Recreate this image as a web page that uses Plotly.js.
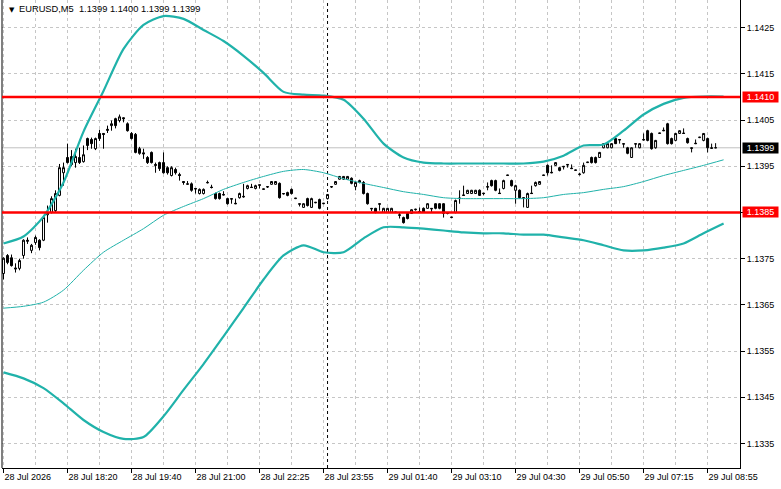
<!DOCTYPE html>
<html>
<head>
<meta charset="utf-8">
<script src="https://cdn.plot.ly/plotly-3.0.1.min.js"></script>
<style>html,body{margin:0;padding:0;background:#fff;}#chart{width:781px;height:489px;}</style>
</head>
<body>
<div id="chart"></div>
<script>
// ---- data (EURUSD M5) ----
const symbol = "EURUSD,M5";
const openP = [1.13718,1.13757,1.13752,1.13730,1.13729,1.13757,1.13790,1.13768,1.13785,1.13790,
1.13790,1.13845,1.13850,1.13854,1.13887,1.13936,1.13969,1.13971,1.13958,1.13969,
1.13960,1.14010,1.14008,1.13988,1.14021,1.14021,1.14030,1.14038,1.14053,1.14049,
1.14055,1.14042,1.14021,1.14019,1.13988,1.13979,1.13969,1.13980,1.13954,1.13958,
1.13958,1.13947,1.13930,1.13943,1.13932,1.13917,1.13911,1.13912,1.13902,1.13891,
1.13891,1.13914,1.13905,1.13891,1.13891,1.13889,1.13880,1.13880,1.13870,1.13882,
1.13885,1.13902,1.13905,1.13902,1.13910,1.13900,1.13905,1.13911,1.13911,1.13913,
1.13890,1.13893,1.13900,1.13880,1.13869,1.13861,1.13880,1.13861,1.13871,1.13878,
1.13869,1.13880,1.13905,1.13911,1.13922,1.13922,1.13922,1.13924,1.13906,1.13915,
1.13915,1.13891,1.13859,1.13859,1.13869,1.13850,1.13850,1.13850,1.13850,1.13845,
1.13839,1.13848,1.13848,1.13856,1.13852,1.13859,1.13859,1.13859,1.13869,1.13869,
1.13869,1.13848,1.13839,1.13850,1.13880,1.13888,1.13891,1.13891,1.13891,1.13898,
1.13892,1.13906,1.13919,1.13919,1.13892,1.13902,1.13930,1.13919,1.13898,1.13898,
1.13882,1.13861,1.13892,1.13908,1.13911,1.13930,1.13952,1.13937,1.13952,1.13947,
1.13950,1.13954,1.13946,1.13941,1.13932,1.13936,1.13958,1.13969,1.13969,1.13969,
1.13990,1.13990,1.13990,1.14010,1.14008,1.13999,1.13990,1.13969,1.13999,1.13990,
1.14008,1.14027,1.14021,1.13990,1.14021,1.14028,1.14042,1.14010,1.14006,1.14021,
1.14022,1.14010,1.13990,1.14000,1.14012,1.14006,1.14010,1.13990,1.13990];
const highP = [1.13753,1.13760,1.13759,1.13740,1.13750,1.13792,1.13796,1.13782,1.13800,1.13792,
1.13842,1.13865,1.13885,1.13898,1.13955,1.13958,1.13999,1.13985,1.13988,1.13990,
1.13995,1.14012,1.14012,1.14012,1.14029,1.14022,1.14038,1.14049,1.14055,1.14062,
1.14056,1.14045,1.14024,1.14022,1.13992,1.13988,1.13972,1.13982,1.13958,1.13960,
1.13980,1.13950,1.13950,1.13947,1.13936,1.13917,1.13918,1.13915,1.13902,1.13902,
1.13902,1.13919,1.13910,1.13893,1.13893,1.13896,1.13882,1.13880,1.13880,1.13893,
1.13912,1.13910,1.13912,1.13910,1.13910,1.13901,1.13907,1.13918,1.13918,1.13915,
1.13891,1.13895,1.13902,1.13881,1.13869,1.13870,1.13882,1.13882,1.13872,1.13880,
1.13870,1.13890,1.13907,1.13918,1.13929,1.13929,1.13929,1.13926,1.13917,1.13921,
1.13918,1.13893,1.13859,1.13860,1.13870,1.13860,1.13860,1.13860,1.13851,1.13849,
1.13841,1.13850,1.13857,1.13858,1.13861,1.13861,1.13870,1.13859,1.13870,1.13870,
1.13870,1.13850,1.13840,1.13878,1.13898,1.13908,1.13899,1.13899,1.13899,1.13900,
1.13892,1.13915,1.13921,1.13921,1.13902,1.13921,1.13931,1.13921,1.13910,1.13900,
1.13883,1.13893,1.13908,1.13917,1.13918,1.13931,1.13954,1.13952,1.13959,1.13949,
1.13950,1.13954,1.13954,1.13942,1.13936,1.13958,1.13959,1.13971,1.13971,1.13981,
1.14000,1.14000,1.14000,1.14012,1.14008,1.13999,1.13992,1.13991,1.13999,1.14000,
1.14021,1.14029,1.14023,1.14007,1.14022,1.14034,1.14044,1.14012,1.14022,1.14028,
1.14032,1.14012,1.13990,1.14008,1.14013,1.14022,1.14012,1.13999,1.14000];
const lowP = [1.13705,1.13738,1.13733,1.13720,1.13725,1.13750,1.13782,1.13762,1.13780,1.13768,
1.13788,1.13828,1.13848,1.13850,1.13885,1.13908,1.13956,1.13950,1.13947,1.13955,
1.13958,1.13985,1.13988,1.13985,1.14005,1.13988,1.14022,1.14027,1.14032,1.14045,
1.14045,1.14025,1.14008,1.13978,1.13975,1.13966,1.13955,1.13956,1.13936,1.13940,
1.13934,1.13932,1.13928,1.13932,1.13919,1.13910,1.13910,1.13895,1.13891,1.13889,
1.13889,1.13913,1.13902,1.13878,1.13878,1.13887,1.13867,1.13869,1.13868,1.13880,
1.13882,1.13900,1.13903,1.13900,1.13902,1.13899,1.13903,1.13910,1.13910,1.13880,
1.13889,1.13885,1.13889,1.13879,1.13863,1.13860,1.13863,1.13860,1.13870,1.13857,
1.13868,1.13878,1.13903,1.13910,1.13921,1.13921,1.13921,1.13911,1.13898,1.13913,
1.13889,1.13867,1.13853,1.13848,1.13854,1.13849,1.13849,1.13849,1.13849,1.13837,
1.13826,1.13835,1.13847,1.13854,1.13850,1.13849,1.13858,1.13850,1.13857,1.13857,
1.13839,1.13846,1.13838,1.13848,1.13869,1.13886,1.13890,1.13890,1.13890,1.13886,
1.13887,1.13898,1.13906,1.13896,1.13890,1.13900,1.13929,1.13906,1.13869,1.13880,
1.13861,1.13860,1.13890,1.13906,1.13910,1.13929,1.13930,1.13935,1.13951,1.13939,
1.13943,1.13947,1.13944,1.13940,1.13930,1.13934,1.13957,1.13956,1.13956,1.13968,
1.13989,1.13989,1.13989,1.13998,1.13999,1.13990,1.13976,1.13968,1.13990,1.13989,
1.14006,1.14004,1.13986,1.13988,1.14020,1.14026,1.13997,1.13997,1.14004,1.14020,
1.14020,1.13999,1.13980,1.13998,1.14011,1.14004,1.13980,1.13988,1.13990];
const closeP = [1.13751,1.13742,1.13735,1.13728,1.13746,1.13790,1.13788,1.13779,1.13796,1.13774,
1.13839,1.13850,1.13880,1.13891,1.13947,1.13947,1.13958,1.13954,1.13971,1.13958,
1.13975,1.13995,1.13999,1.14010,1.14010,1.14019,1.14028,1.14042,1.14038,1.14057,
1.14053,1.14027,1.14010,1.13980,1.13978,1.13977,1.13958,1.13958,1.13952,1.13945,
1.13936,1.13936,1.13947,1.13936,1.13930,1.13915,1.13912,1.13898,1.13901,1.13900,
1.13900,1.13915,1.13904,1.13880,1.13880,1.13888,1.13869,1.13879,1.13869,1.13891,
1.13884,1.13908,1.13904,1.13908,1.13909,1.13901,1.13906,1.13917,1.13917,1.13882,
1.13891,1.13887,1.13891,1.13881,1.13868,1.13869,1.13865,1.13880,1.13872,1.13859,
1.13870,1.13889,1.13906,1.13917,1.13928,1.13928,1.13928,1.13913,1.13915,1.13919,
1.13891,1.13869,1.13858,1.13850,1.13868,1.13859,1.13859,1.13859,1.13851,1.13844,
1.13828,1.13837,1.13856,1.13857,1.13851,1.13850,1.13869,1.13858,1.13859,1.13859,
1.13848,1.13849,1.13840,1.13876,1.13881,1.13887,1.13898,1.13898,1.13898,1.13887,
1.13891,1.13905,1.13908,1.13898,1.13891,1.13919,1.13931,1.13908,1.13908,1.13882,
1.13881,1.13891,1.13891,1.13915,1.13917,1.13931,1.13936,1.13936,1.13958,1.13941,
1.13949,1.13953,1.13945,1.13942,1.13933,1.13952,1.13959,1.13958,1.13958,1.13980,
1.13999,1.13999,1.13999,1.13999,1.14007,1.13998,1.13978,1.13990,1.13998,1.13999,
1.14007,1.14006,1.13988,1.14006,1.14022,1.14027,1.13999,1.13999,1.14021,1.14027,
1.14021,1.14001,1.13989,1.13999,1.14013,1.14021,1.13990,1.13989,1.13990];

// Bollinger bands, read at every 5th bar
const bandBars  = [0,5,10,15,20,25,30,35,40,45,50,55,60,65,70,75,80,85,90,95,100,105,110,115,120,125,130,135,140,145,150,155,160,165,170,175,180];
const bandUpper = [1.13783,1.13798,1.13841,1.13915,1.14025,1.14113,1.14204,1.14256,1.14275,1.14269,1.14245,1.14221,1.14189,1.14152,1.14111,1.14105,1.14103,1.14094,1.14053,1.13999,1.13969,1.13958,1.13956,1.13956,1.13956,1.13956,1.13956,1.13960,1.13973,1.13995,1.13997,1.14027,1.14062,1.14085,1.14098,1.14101,1.14101];
const bandMid   = [1.13643,1.13647,1.13656,1.13682,1.13725,1.13764,1.13790,1.13815,1.13844,1.13863,1.13880,1.13900,1.13915,1.13928,1.13939,1.13943,1.13936,1.13923,1.13913,1.13904,1.13895,1.13889,1.13882,1.13880,1.13880,1.13880,1.13880,1.13882,1.13889,1.13893,1.13900,1.13906,1.13917,1.13930,1.13941,1.13952,1.13964];
const bandLower = [1.13504,1.13491,1.13470,1.13437,1.13401,1.13375,1.13360,1.13364,1.13409,1.13466,1.13522,1.13582,1.13643,1.13705,1.13757,1.13779,1.13764,1.13764,1.13794,1.13818,1.13818,1.13815,1.13811,1.13807,1.13805,1.13805,1.13802,1.13802,1.13796,1.13790,1.13779,1.13768,1.13768,1.13774,1.13783,1.13805,1.13826];

const levels = [1.1410, 1.1385];
const daySeparatorBar = 81;
const priceTicks = [1.1335,1.1345,1.1355,1.1365,1.1375,1.1385,1.1395,1.1405,1.1415,1.1425];
const timeLabels = ["28 Jul 2026","28 Jul 18:20","28 Jul 19:40","28 Jul 21:00","28 Jul 22:25","28 Jul 23:55",
  "29 Jul 01:40","29 Jul 03:10","29 Jul 04:30","29 Jul 05:50","29 Jul 07:15","29 Jul 08:55"];
const barsPerLabel = 16;

// ---- derived ----
const bars = openP.map((_, i) => i);
const labelBars = timeLabels.map((_, k) => k * barsPerLabel);
const n = closeP.length;
const lastClose = closeP[n - 1];
const f4 = v => v.toFixed(4);
const header = symbol + "&nbsp;&nbsp;" + [openP[n-1], highP[n-1], lowP[n-1], closeP[n-1]].map(f4).join(" ");

const FONT = "Liberation Sans, Arial, sans-serif";
const BAND = "#20B2AA";
const GRID = "#C6C6C6";

const traces = [
  {type: "candlestick", x: bars, open: openP, high: highP, low: lowP, close: closeP,
   increasing: {line: {color: "#000", width: 1}, fillcolor: "#FFFFFF"},
   decreasing: {line: {color: "#000", width: 1}, fillcolor: "#000000"},
   whiskerwidth: 0, hoverinfo: "none", showlegend: false},
  {type: "scatter", mode: "lines", x: bandBars, y: bandUpper, line: {color: BAND, width: 2.2, shape: "spline", smoothing: 0.7}, hoverinfo: "none"},
  {type: "scatter", mode: "lines", x: bandBars, y: bandMid,   line: {color: BAND, width: 1,   shape: "spline", smoothing: 0.7}, hoverinfo: "none"},
  {type: "scatter", mode: "lines", x: bandBars, y: bandLower, line: {color: BAND, width: 2.2, shape: "spline", smoothing: 0.7}, hoverinfo: "none"}
];

const shapes = [
  {type: "line", xref: "paper", yref: "paper", x0: 0, x1: 0, y0: 0, y1: 1, line: {color: "#000", width: 1}},
  {type: "line", xref: "paper", yref: "y", x0: 0, x1: 1, y0: lastClose, y1: lastClose, line: {color: "#C0C0C0", width: 1}, layer: "below"},
  {type: "line", xref: "x", yref: "paper", x0: daySeparatorBar, x1: daySeparatorBar, y0: 0, y1: 1, line: {color: "#000", width: 1, dash: "3px,3px"}, layer: "below"}
];
levels.forEach(l => shapes.push({type: "line", xref: "paper", yref: "y", x0: 0, x1: 1, y0: l, y1: l, line: {color: "#FF0000", width: 2.5}}));

const annotations = [
  {xref: "paper", yref: "paper", x: 0.0065, y: 0.9915, xanchor: "left", yanchor: "top", showarrow: false,
   text: "▼", font: {family: "DejaVu Sans", size: 7, color: "#000"}},
  {xref: "paper", yref: "paper", x: 0.020, y: 0.995, xanchor: "left", yanchor: "top", showarrow: false,
   text: header, font: {family: FONT, size: 9.3, color: "#000"}}
];
function priceBox(v, bg) {
  annotations.push({xref: "paper", yref: "y", x: 1.0027, y: v, xanchor: "left", yanchor: "middle", showarrow: false,
    text: f4(v), width: 35, height: 10, borderpad: 0, bgcolor: bg, align: "center",
    font: {family: FONT, size: 9, color: "#FFFFFF"}});
}
levels.forEach(l => priceBox(l, "#FF0000"));
priceBox(lastClose, "#000000");

const layout = {
  width: 781, height: 489,
  margin: {l: 2, r: 41, t: 0, b: 21, pad: 0},
  paper_bgcolor: "#FFFFFF", plot_bgcolor: "#FFFFFF",
  showlegend: false, hovermode: false, dragmode: false,
  font: {family: FONT, size: 9, color: "#000"},
  xaxis: {
    range: [-0.375, 184.1], rangeslider: {visible: false},
    tickmode: "array", tickvals: labelBars, ticktext: timeLabels,
    ticks: "outside", ticklen: 4, tickcolor: "#000", tickwidth: 1,
    ticklabelposition: "outside right",
    tickfont: {family: FONT, size: 9, color: "#000"},
    showgrid: true, gridcolor: GRID, gridwidth: 1, griddash: "3px,3px",
    minor: {tick0: 0, dtick: 8, showgrid: true, gridcolor: GRID, gridwidth: 1, griddash: "3px,3px", ticks: ""},
    showline: true, linecolor: "#000", linewidth: 1, zeroline: false, fixedrange: true
  },
  yaxis: {
    side: "right", range: [1.132971, 1.143098],
    tickmode: "array", tickvals: priceTicks, ticktext: priceTicks.map(f4),
    ticks: "outside", ticklen: 4, tickcolor: "#000", tickwidth: 1,
    tickfont: {family: FONT, size: 9, color: "#000"},
    showgrid: true, gridcolor: GRID, gridwidth: 1, griddash: "3px,3px",
    showline: true, linecolor: "#000", linewidth: 1, zeroline: false, fixedrange: true
  },
  shapes: shapes,
  annotations: annotations
};

Plotly.newPlot("chart", traces, layout, {staticPlot: true, displayModeBar: false});
</script>
</body>
</html>
